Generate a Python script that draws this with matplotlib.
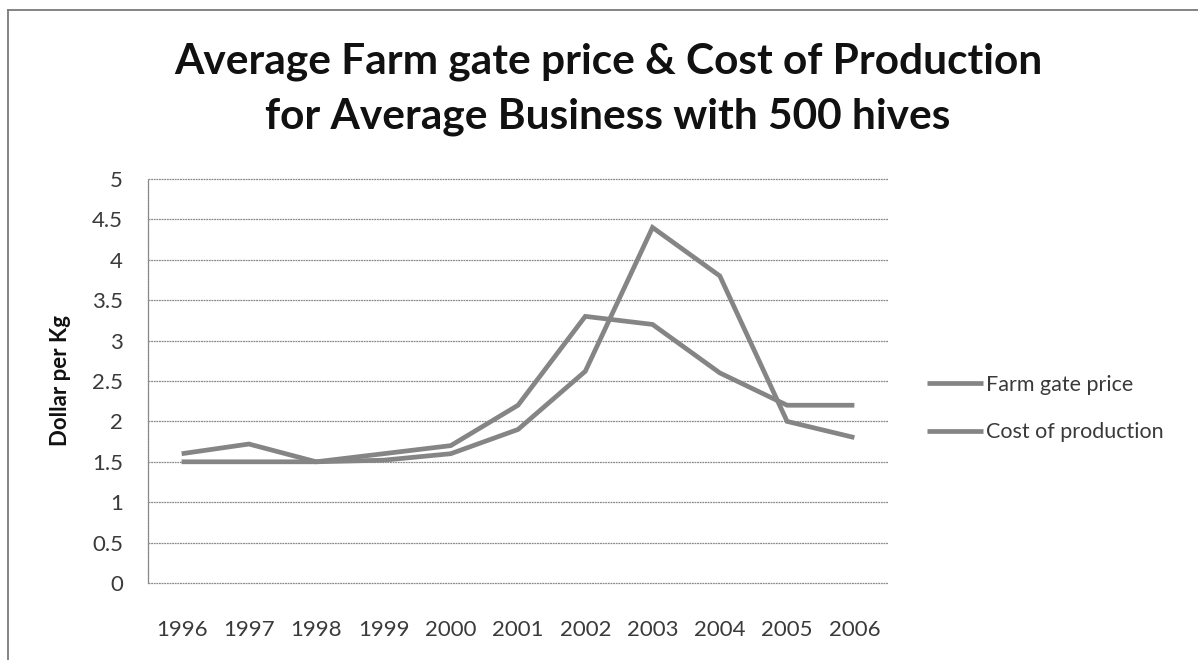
import matplotlib
matplotlib.use("Agg")
import matplotlib.pyplot as plt
from matplotlib.lines import Line2D

plt.rcParams['font.family'] = ['Lato', 'DejaVu Sans']

years = ['1996', '1997', '1998', '1999', '2000', '2001', '2002', '2003', '2004', '2005', '2006']
farm_gate_price = [1.5, 1.5, 1.5, 1.52, 1.6, 1.9, 2.62, 4.4, 3.8, 2.0, 1.8]
cost_of_production = [1.6, 1.72, 1.5, 1.6, 1.7, 2.2, 3.3, 3.2, 2.6, 2.2, 2.2]
series_names = ['Farm gate price', 'Cost of production']
y_ticks = [0, 0.5, 1, 1.5, 2, 2.5, 3, 3.5, 4, 4.5, 5]
y_tick_labels = ['0', '0.5', '1', '1.5', '2', '2.5', '3', '3.5', '4', '4.5', '5']

W, H = 1198, 660
fig = plt.figure(figsize=(W / 100, H / 100), dpi=100)
fig.patch.set_facecolor('white')

# outer chart border (left and top visible)
fig.add_artist(Line2D([8 / W, 8 / W], [0, 1 - 10 / H], transform=fig.transFigure,
                      color='#7a7a7a', lw=1.3))
fig.add_artist(Line2D([8 / W, 1], [1 - 10 / H, 1 - 10 / H], transform=fig.transFigure,
                      color='#7a7a7a', lw=1.3))

left, right, top, bottom = 148, 888, 179, 583
ax = fig.add_axes([left / W, 1 - bottom / H, (right - left) / W, (bottom - top) / H])

x = list(range(len(years)))
line_color = '#858585'
ax.plot(x, farm_gate_price, color=line_color, lw=3.4, solid_capstyle='butt',
        solid_joinstyle='miter', label=series_names[0], zorder=3)
ax.plot(x, cost_of_production, color=line_color, lw=3.4, solid_capstyle='butt',
        solid_joinstyle='miter', label=series_names[1], zorder=3)

ax.set_xlim(-0.5, len(years) - 0.5)
ax.set_ylim(0, 5)
ax.set_yticks(y_ticks)
ax.set_yticklabels(y_tick_labels)
ax.set_xticks(x)
ax.set_xticklabels(years)

for yv in y_ticks:
    ax.axhline(yv, color='#8a8a8a', lw=0.9, ls=(0, (1.5, 0.6)), zorder=1, clip_on=False)

for s in ['top', 'right', 'bottom']:
    ax.spines[s].set_visible(False)
ax.spines['left'].set_color('#8a8a8a')
ax.spines['left'].set_linewidth(0.9)
ax.spines['left'].set_linestyle((0, (1.5, 0.6)))

ax.tick_params(axis='both', length=0, labelsize=16, labelcolor='#3a3a3a')
ax.tick_params(axis='y', pad=18)
ax.tick_params(axis='x', pad=27)

ax.set_ylabel('Dollar per Kg', fontsize=16, fontweight='bold', color='#111111', labelpad=15)

fig.text(608 / W, 1 - 62 / H, 'Average Farm gate price & Cost of Production',
         ha='center', va='center', fontsize=30.5, fontweight='bold', color='#111111')
fig.text(608 / W, 1 - 117 / H, 'for Average Business with 500 hives',
         ha='center', va='center', fontsize=30.5, fontweight='bold', color='#111111')

leg = ax.legend(loc='center left', bbox_to_anchor=(927 / W, 1 - 408.5 / H),
                bbox_transform=fig.transFigure, frameon=False, fontsize=15.5,
                handlelength=2.6, handletextpad=0.12, labelspacing=1.3,
                borderpad=0, borderaxespad=0)
for t in leg.get_texts():
    t.set_color('#3a3a3a')

fig.savefig('out.png', dpi=100, facecolor='white')
